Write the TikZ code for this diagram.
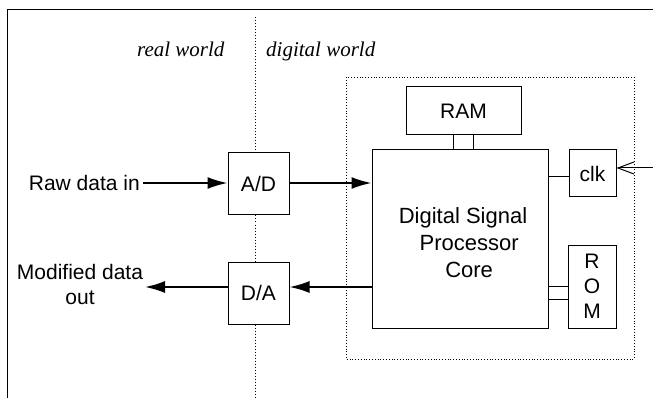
\documentclass[tikz,border=0pt]{standalone}
\usepackage{fontspec}
\setmainfont{Liberation Sans}
\newfontfamily\timesfont{Liberation Serif}
\usetikzlibrary{arrows.meta}
\begin{document}
\begin{tikzpicture}[x=1pt,y=-1pt,
    box/.style={draw,line width=1pt,inner sep=0pt,align=center,font=\fontsize{21}{25}\selectfont},
    sig/.style={-{Latex[length=20pt,width=12pt]},line width=1.8pt},
    bus/.style={line width=1pt},
    divider/.style={dotted,line width=1pt},
    lbl/.style={inner sep=0pt,font=\fontsize{21}{25}\selectfont},
    world/.style={inner sep=0pt,font=\fontsize{21}{25}\timesfont\itshape}]
        \useasboundingbox (0,0) rectangle (653,398);
        \draw[line width=0.8pt] (653,9)--(7,9)--(7,398); %frame
        % converters
        \node[box,minimum width=61pt,minimum height=62pt] (ad) at (258.5,184) {A/D};
        \node[box,minimum width=61pt,minimum height=62pt] (da) at (258.5,293) {D/A};
        % real world / digital world
        \coordinate (divtop) at (255,17);
        \coordinate (divbot) at (255,398);
        \draw[divider] (divtop)--(divtop |- ad.north);
        \draw[divider] (divtop |- ad.south)--(divtop |- da.north);
        \draw[divider] (divtop |- da.south)--(divbot);
        \node[world,anchor=base west] (real) at (137,57) {real world};
        \node[world,anchor=base west] (digital) at (266,57) {digital world};
        % DSP chip
        \draw[divider,line width=0.8pt] (346,77) rectangle (634,359);
        \node[box,minimum width=115pt,minimum height=48pt] (ram) at (463.5,111) {RAM};
        \node[box,minimum width=176pt,minimum height=178pt,font=\fontsize{22}{27}\selectfont] (dsp) at (460,239) {};
        \node[lbl,align=center,font=\fontsize{22}{27}\selectfont] (dsptext) at (463,243) {Digital Signal\\\ \ Processor\\\ \ Core};
        \node[box,minimum width=47pt,minimum height=47pt] (clk) at (592.5,173.5) {clk};
        \node[box,minimum width=48pt,minimum height=83pt] (rom) at (592,286.5) {R\\O\\M};
        \draw[bus] ([xshift=-10.5pt]ram.south)--([xshift=-10.5pt]ram.south |- dsp.north);
        \draw[bus] ([xshift=9.5pt]ram.south)--([xshift=9.5pt]ram.south |- dsp.north);
        \draw[bus] ([yshift=-3.5pt]clk.west)--([yshift=-3.5pt]clk.west -| dsp.east);
        \draw[bus] (rom.west)--(rom.west -| dsp.east);
        \draw[bus] ([yshift=-12.5pt]rom.west)--([yshift=-12.5pt]rom.west -| dsp.east);
        \coordinate (clkin) at (653,168);
        \draw[-{Straight Barb[length=16pt,width=12pt]},line width=1pt] (clkin)--(clkin -| clk.east);
        % data path
        \node[lbl,anchor=east] (raw) at (140,183) {Raw data in};
        \node[lbl,align=center] (mod) at (80,284.5) {Modified data\\out};
        \draw[sig] ([xshift=3pt]raw.east)--(raw.east -| ad.west);
        \draw[sig] (raw.east -| ad.east)--(raw.east -| dsp.west);
        \draw[sig] ([yshift=6pt]da.west -| dsp.west)--([yshift=6pt]da.east);
        \draw[sig] ([yshift=6pt]da.west)--([yshift=6pt]da.west -| 145,0);
\end{tikzpicture}
\end{document}
